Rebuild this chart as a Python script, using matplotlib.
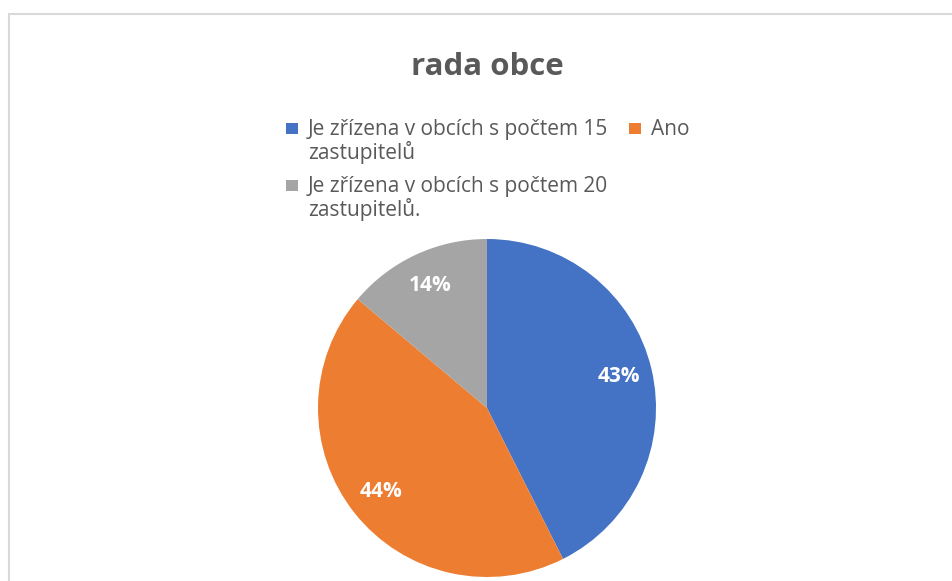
import matplotlib.pyplot as plt
from matplotlib.patches import Rectangle

# data
labels = [['Je zřízena v obcích s počtem 15', 'zastupitelů'],
          ['Ano'],
          ['Je zřízena v obcích s počtem 20', 'zastupitelů.']]
values = [43, 44, 14]
colors = ['#4472C4', '#ED7D31', '#A5A5A5']
title = 'rada obce'

W, H = 953, 581
fig = plt.figure(figsize=(W / 100, H / 100), dpi=100)
fig.patch.set_facecolor('white')
font = 'Open Sans'
grey = '#595959'

# chart frame (runs off the right and bottom edges)
fig.patches.append(Rectangle((9 / W, -0.05), 1.0, (H - 14) / H + 0.05,
                             transform=fig.transFigure, fill=False,
                             edgecolor='#d9d9d9', linewidth=1.5))

# pie, centre (487, 408), radius 169 px
cx, cy, r = 487, 408, 169
ax = fig.add_axes([(cx - r) / W, (H - cy - r) / H, 2 * r / W, 2 * r / H])
wedges, texts, autotexts = ax.pie(values, colors=colors, startangle=90, counterclock=False,
                                  autopct='%1.0f%%', pctdistance=0.8,
                                  wedgeprops=dict(linewidth=0))
for t in autotexts:
    t.set_color('white')
    t.set_fontweight('bold')
    t.set_fontsize(15)
    t.set_family(font)
ax.set_xlim(-1, 1)
ax.set_ylim(-1, 1)
ax.axis('off')

# title
fig.text(cx / W, 1 - 75 / H, title, ha='center', va='baseline', fontsize=22.5,
         fontweight='bold', color=grey, family=font)

# legend, laid out by hand
def entry(x, y, color, lines):
    fig.patches.append(Rectangle((x / W, 1 - (y - 1) / H), 12 / W, 11 / H,
                                 transform=fig.transFigure, facecolor=color, edgecolor='none'))
    for i, line in enumerate(lines):
        fig.text((x + 22) / W, 1 - (y + 24 * i) / H, line, ha='left', va='baseline',
                 fontsize=15, color=grey, family=font)

entry(286, 135, colors[0], labels[0])
entry(629, 135, colors[1], labels[1])
entry(286, 192, colors[2], labels[2])

fig.savefig('out.png', dpi=100, facecolor='white')
